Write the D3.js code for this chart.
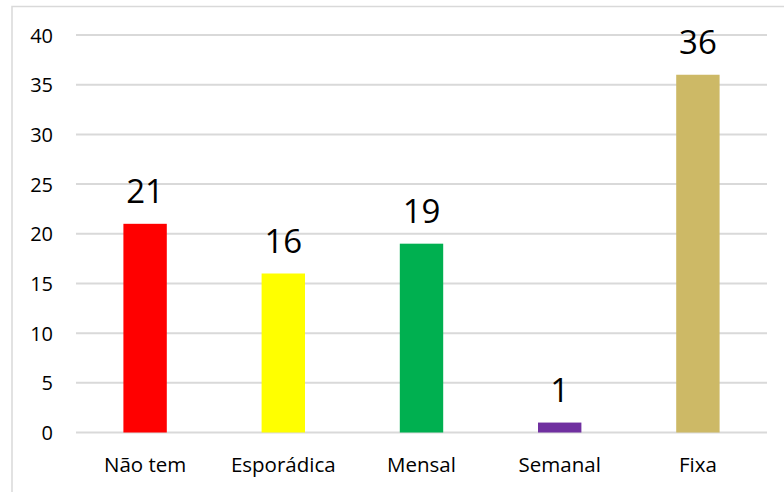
<!DOCTYPE html>
<html lang="pt">
<head>
    <meta charset="UTF-8">
    <title>Frequência</title>
    <style>
        body { margin: 0; background: #fff; }
        svg { display: block; font-family: "Open Sans", sans-serif; }
        .grid line { stroke: #d9d9d9; stroke-width: 2; }
        .tick-label { font-size: 20px; fill: #000; }
        .cat-label { font-size: 20.5px; fill: #000; }
        .value-label { font-size: 33px; fill: #000; }
    </style>
</head>
<body>
    <svg id="chart" width="784" height="492"></svg>

    <script src="https://d3js.org/d3.v7.min.js"></script>
    <script>
        const categories = ["Não tem", "Esporádica", "Mensal", "Semanal", "Fixa"];
        const values = [21, 16, 19, 1, 36];
        const colors = ["#ff0000", "#ffff00", "#00b050", "#7030a0", "#cdb966"];
        const yTicks = [0, 5, 10, 15, 20, 25, 30, 35, 40];

        const svg = d3.select("#chart");
        const plot = { left: 76, right: 767, top: 35, bottom: 432.5 };

        const x = d3.scaleBand()
            .domain(categories)
            .range([plot.left, plot.right])
            .paddingInner(0.686)
            .paddingOuter(0.343);

        const y = d3.scaleLinear()
            .domain([0, 40])
            .range([plot.bottom, plot.top]);

        // chart border (only top and left show in the frame)
        svg.append("rect")
            .attr("x", 12).attr("y", 6.5)
            .attr("width", 800).attr("height", 500)
            .attr("fill", "none")
            .attr("stroke", "#d9d9d9")
            .attr("stroke-width", 1.5);

        // gridlines
        svg.append("g").attr("class", "grid")
            .selectAll("line")
            .data(yTicks)
            .join("line")
            .attr("x1", plot.left).attr("x2", plot.right)
            .attr("y1", d => y(d)).attr("y2", d => y(d));

        // y tick labels
        svg.append("g")
            .selectAll("text")
            .data(yTicks)
            .join("text")
            .attr("class", "tick-label")
            .attr("x", 53)
            .attr("y", d => y(d))
            .attr("text-anchor", "end")
            .attr("dominant-baseline", "central")
            .text(d => d);

        // bars
        svg.append("g")
            .selectAll("rect")
            .data(values)
            .join("rect")
            .attr("x", (d, i) => x(categories[i]))
            .attr("width", x.bandwidth())
            .attr("y", d => y(d))
            .attr("height", d => y(0) - y(d))
            .attr("fill", (d, i) => colors[i]);

        // value labels
        svg.append("g")
            .selectAll("text")
            .data(values)
            .join("text")
            .attr("class", "value-label")
            .attr("x", (d, i) => x(categories[i]) + x.bandwidth() / 2)
            .attr("y", d => y(d) - 21)
            .attr("text-anchor", "middle")
            .text(d => d);

        // category labels
        svg.append("g")
            .selectAll("text")
            .data(categories)
            .join("text")
            .attr("class", "cat-label")
            .attr("x", d => x(d) + x.bandwidth() / 2)
            .attr("y", 472)
            .attr("text-anchor", "middle")
            .text(d => d);
    </script>
</body>
</html>
